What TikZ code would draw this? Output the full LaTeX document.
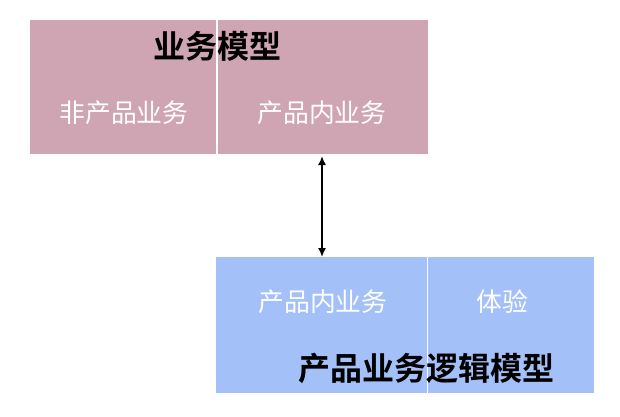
\documentclass[tikz,border=0pt]{standalone}
\usepackage{fontspec}
\newfontfamily\cjk{Noto Sans CJK SC}
\newfontfamily\cjkb{Noto Sans CJK SC Bold}
\usetikzlibrary{arrows.meta}
\definecolor{pinkbox}{HTML}{CFA5B3}
\definecolor{bluebox}{HTML}{A4C0F8}
\begin{document}
\begin{tikzpicture}[x=1pt,y=-1pt,
  cell/.style={draw=none,inner sep=0pt,anchor=north west},
  sublabel/.style={text=white,font=\cjk\fontsize{25.8}{26}\selectfont,inner sep=0pt},
  title/.style={text=black,font=\cjkb\fontsize{32}{32}\selectfont,inner sep=0pt}]
\useasboundingbox (0,0) rectangle (620,416);
% top box
\node[cell,fill=pinkbox,minimum width=186pt,minimum height=134pt] (tl) at (30,20) {};
\node[cell,fill=pinkbox,minimum width=210pt,minimum height=134pt] (tr) at (218,20) {};
\node[sublabel] (tlt) at (124,113) {非产品业务};
\node[sublabel] (trt) at (322,113) {产品内业务};
\node[title] (ttitle) at (217,46) {业务模型};
% bottom box
\node[cell,fill=bluebox,minimum width=211pt,minimum height=136pt] (bl) at (216,257) {};
\node[cell,fill=bluebox,minimum width=166pt,minimum height=136pt] (br) at (428,257) {};
\node[sublabel] (blt) at (323,302) {产品内业务};
\node[sublabel] (brt) at (502,302) {体验};
\node[title] (btitle) at (426,368) {产品业务逻辑模型};
% arrow
\coordinate (a1) at (322,156);
\coordinate (a2) at (322,257);
\draw[line width=1.6pt,{Latex[length=9pt,width=8pt]}-{Latex[length=9pt,width=8pt]}] (a1) -- (a2);
\end{tikzpicture}
\end{document}
